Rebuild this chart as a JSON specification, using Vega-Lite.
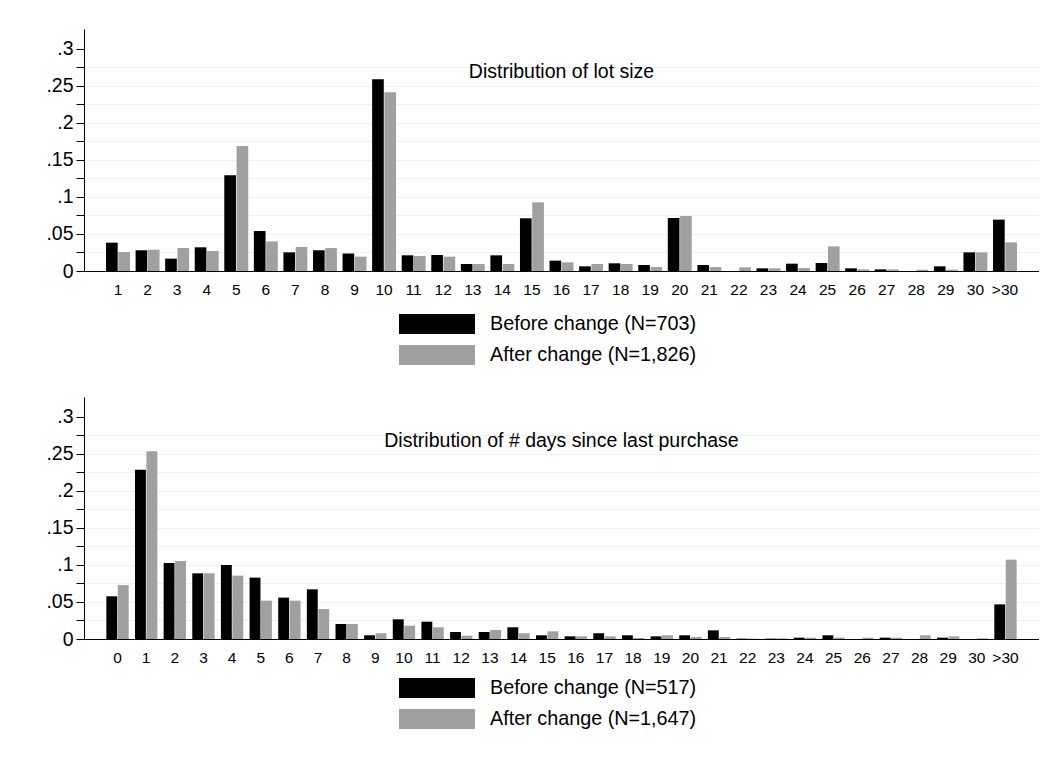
{
  "$schema": "https://vega.github.io/schema/vega-lite/v6.json",
  "padding": {"left": 45, "top": 29, "right": 0, "bottom": 0},
  "background": "white",
  "datasets": {
    "lot": [
      {"category": "1", "series": "Before change (N=703)", "share": 0.0383},
      {"category": "1", "series": "After change (N=1,826)", "share": 0.0257},
      {"category": "2", "series": "Before change (N=703)", "share": 0.028},
      {"category": "2", "series": "After change (N=1,826)", "share": 0.0288},
      {"category": "3", "series": "Before change (N=703)", "share": 0.0167},
      {"category": "3", "series": "After change (N=1,826)", "share": 0.0311},
      {"category": "4", "series": "Before change (N=703)", "share": 0.032},
      {"category": "4", "series": "After change (N=1,826)", "share": 0.027},
      {"category": "5", "series": "Before change (N=703)", "share": 0.1293},
      {"category": "5", "series": "After change (N=1,826)", "share": 0.169},
      {"category": "6", "series": "Before change (N=703)", "share": 0.054},
      {"category": "6", "series": "After change (N=1,826)", "share": 0.040},
      {"category": "7", "series": "Before change (N=703)", "share": 0.0252},
      {"category": "7", "series": "After change (N=1,826)", "share": 0.0324},
      {"category": "8", "series": "Before change (N=703)", "share": 0.028},
      {"category": "8", "series": "After change (N=1,826)", "share": 0.031},
      {"category": "9", "series": "Before change (N=703)", "share": 0.0236},
      {"category": "9", "series": "After change (N=1,826)", "share": 0.0194},
      {"category": "10", "series": "Before change (N=703)", "share": 0.259},
      {"category": "10", "series": "After change (N=1,826)", "share": 0.2414},
      {"category": "11", "series": "Before change (N=703)", "share": 0.0212},
      {"category": "11", "series": "After change (N=1,826)", "share": 0.0203},
      {"category": "12", "series": "Before change (N=703)", "share": 0.0216},
      {"category": "12", "series": "After change (N=1,826)", "share": 0.0194},
      {"category": "13", "series": "Before change (N=703)", "share": 0.0095},
      {"category": "13", "series": "After change (N=1,826)", "share": 0.0095},
      {"category": "14", "series": "Before change (N=703)", "share": 0.0212},
      {"category": "14", "series": "After change (N=1,826)", "share": 0.0095},
      {"category": "15", "series": "Before change (N=703)", "share": 0.0712},
      {"category": "15", "series": "After change (N=1,826)", "share": 0.0928},
      {"category": "16", "series": "Before change (N=703)", "share": 0.014},
      {"category": "16", "series": "After change (N=1,826)", "share": 0.0117},
      {"category": "17", "series": "Before change (N=703)", "share": 0.0063},
      {"category": "17", "series": "After change (N=1,826)", "share": 0.0095},
      {"category": "18", "series": "Before change (N=703)", "share": 0.0104},
      {"category": "18", "series": "After change (N=1,826)", "share": 0.0095},
      {"category": "19", "series": "Before change (N=703)", "share": 0.0081},
      {"category": "19", "series": "After change (N=1,826)", "share": 0.0054},
      {"category": "20", "series": "Before change (N=703)", "share": 0.0716},
      {"category": "20", "series": "After change (N=1,826)", "share": 0.0743},
      {"category": "21", "series": "Before change (N=703)", "share": 0.0081},
      {"category": "21", "series": "After change (N=1,826)", "share": 0.0054},
      {"category": "22", "series": "Before change (N=703)", "share": 0},
      {"category": "22", "series": "After change (N=1,826)", "share": 0.005},
      {"category": "23", "series": "Before change (N=703)", "share": 0.0036},
      {"category": "23", "series": "After change (N=1,826)", "share": 0.0036},
      {"category": "24", "series": "Before change (N=703)", "share": 0.0099},
      {"category": "24", "series": "After change (N=1,826)", "share": 0.0041},
      {"category": "25", "series": "Before change (N=703)", "share": 0.0108},
      {"category": "25", "series": "After change (N=1,826)", "share": 0.0333},
      {"category": "26", "series": "Before change (N=703)", "share": 0.0036},
      {"category": "26", "series": "After change (N=1,826)", "share": 0.0022},
      {"category": "27", "series": "Before change (N=703)", "share": 0.0022},
      {"category": "27", "series": "After change (N=1,826)", "share": 0.0022},
      {"category": "28", "series": "Before change (N=703)", "share": 0},
      {"category": "28", "series": "After change (N=1,826)", "share": 0.0018},
      {"category": "29", "series": "Before change (N=703)", "share": 0.0063},
      {"category": "29", "series": "After change (N=1,826)", "share": 0.0018},
      {"category": "30", "series": "Before change (N=703)", "share": 0.0252},
      {"category": "30", "series": "After change (N=1,826)", "share": 0.0252},
      {"category": ">30", "series": "Before change (N=703)", "share": 0.0694},
      {"category": ">30", "series": "After change (N=1,826)", "share": 0.0387}
    ],
    "days": [
      {"category": "0", "series": "Before change (N=517)", "share": 0.0577},
      {"category": "0", "series": "After change (N=1,647)", "share": 0.0728},
      {"category": "1", "series": "Before change (N=517)", "share": 0.2288},
      {"category": "1", "series": "After change (N=1,647)", "share": 0.2536},
      {"category": "2", "series": "Before change (N=517)", "share": 0.1027},
      {"category": "2", "series": "After change (N=1,647)", "share": 0.1054},
      {"category": "3", "series": "Before change (N=517)", "share": 0.0887},
      {"category": "3", "series": "After change (N=1,647)", "share": 0.0887},
      {"category": "4", "series": "Before change (N=517)", "share": 0.1},
      {"category": "4", "series": "After change (N=1,647)", "share": 0.0856},
      {"category": "5", "series": "Before change (N=517)", "share": 0.0829},
      {"category": "5", "series": "After change (N=1,647)", "share": 0.0518},
      {"category": "6", "series": "Before change (N=517)", "share": 0.0559},
      {"category": "6", "series": "After change (N=1,647)", "share": 0.0518},
      {"category": "7", "series": "Before change (N=517)", "share": 0.0671},
      {"category": "7", "series": "After change (N=1,647)", "share": 0.0405},
      {"category": "8", "series": "Before change (N=517)", "share": 0.0203},
      {"category": "8", "series": "After change (N=1,647)", "share": 0.0203},
      {"category": "9", "series": "Before change (N=517)", "share": 0.005},
      {"category": "9", "series": "After change (N=1,647)", "share": 0.0077},
      {"category": "10", "series": "Before change (N=517)", "share": 0.0266},
      {"category": "10", "series": "After change (N=1,647)", "share": 0.018},
      {"category": "11", "series": "Before change (N=517)", "share": 0.0234},
      {"category": "11", "series": "After change (N=1,647)", "share": 0.0158},
      {"category": "12", "series": "Before change (N=517)", "share": 0.0095},
      {"category": "12", "series": "After change (N=1,647)", "share": 0.0045},
      {"category": "13", "series": "Before change (N=517)", "share": 0.0095},
      {"category": "13", "series": "After change (N=1,647)", "share": 0.0122},
      {"category": "14", "series": "Before change (N=517)", "share": 0.0158},
      {"category": "14", "series": "After change (N=1,647)", "share": 0.0077},
      {"category": "15", "series": "Before change (N=517)", "share": 0.005},
      {"category": "15", "series": "After change (N=1,647)", "share": 0.0104},
      {"category": "16", "series": "Before change (N=517)", "share": 0.0036},
      {"category": "16", "series": "After change (N=1,647)", "share": 0.0036},
      {"category": "17", "series": "Before change (N=517)", "share": 0.0077},
      {"category": "17", "series": "After change (N=1,647)", "share": 0.0036},
      {"category": "18", "series": "Before change (N=517)", "share": 0.005},
      {"category": "18", "series": "After change (N=1,647)", "share": 0.0014},
      {"category": "19", "series": "Before change (N=517)", "share": 0.0036},
      {"category": "19", "series": "After change (N=1,647)", "share": 0.005},
      {"category": "20", "series": "Before change (N=517)", "share": 0.005},
      {"category": "20", "series": "After change (N=1,647)", "share": 0.0027},
      {"category": "21", "series": "Before change (N=517)", "share": 0.0117},
      {"category": "21", "series": "After change (N=1,647)", "share": 0.0027},
      {"category": "22", "series": "Before change (N=517)", "share": 0.0005},
      {"category": "22", "series": "After change (N=1,647)", "share": 0.0005},
      {"category": "23", "series": "Before change (N=517)", "share": 0.0005},
      {"category": "23", "series": "After change (N=1,647)", "share": 0.0009},
      {"category": "24", "series": "Before change (N=517)", "share": 0.0018},
      {"category": "24", "series": "After change (N=1,647)", "share": 0.0018},
      {"category": "25", "series": "Before change (N=517)", "share": 0.005},
      {"category": "25", "series": "After change (N=1,647)", "share": 0.0018},
      {"category": "26", "series": "Before change (N=517)", "share": 0},
      {"category": "26", "series": "After change (N=1,647)", "share": 0.0018},
      {"category": "27", "series": "Before change (N=517)", "share": 0.0018},
      {"category": "27", "series": "After change (N=1,647)", "share": 0.0018},
      {"category": "28", "series": "Before change (N=517)", "share": 0},
      {"category": "28", "series": "After change (N=1,647)", "share": 0.005},
      {"category": "29", "series": "Before change (N=517)", "share": 0.0018},
      {"category": "29", "series": "After change (N=1,647)", "share": 0.0036},
      {"category": "30", "series": "Before change (N=517)", "share": 0},
      {"category": "30", "series": "After change (N=1,647)", "share": 0.0009},
      {"category": ">30", "series": "Before change (N=517)", "share": 0.0468},
      {"category": ">30", "series": "After change (N=1,647)", "share": 0.1072}
    ]
  },
  "vconcat": [
    {
      "data": {"name": "lot"},
      "width": 955,
      "height": 242,
      "title": {"text": "Distribution of lot size", "offset": -68, "baseline": "alphabetic"},
      "mark": {"type": "bar"},
      "encoding": {
        "x": {
          "field": "category", "type": "nominal",
          "sort": ["1","2","3","4","5","6","7","8","9","10","11","12","13","14","15","16","17","18","19","20","21","22","23","24","25","26","27","28","29","30",">30"],
          "scale": {"paddingInner": 0.19, "paddingOuter": 0.745},
          "axis": {"title": null, "labelAngle": 0, "ticks": false, "labelPadding": 11, "labelFontSize": 15.5, "domainColor": "black", "labelColor": "black", "grid": false}
        },
        "xOffset": {"field": "series", "type": "nominal", "scale": {"domain": ["Before change (N=703)", "After change (N=1,826)"], "paddingInner": 0.05}},
        "y": {
          "field": "share", "type": "quantitative",
          "scale": {"domain": [0, 0.327], "nice": false},
          "axis": {
            "title": null,
            "values": [0, 0.025, 0.05, 0.075, 0.1, 0.125, 0.15, 0.175, 0.2, 0.225, 0.25, 0.275, 0.3],
            "labelExpr": "abs(datum.value*20 - round(datum.value*20)) < 0.01 ? (datum.value == 0 ? '0' : replace(format(datum.value, '.2~f'), '0.', '.')) : ''",
            "grid": true,
            "gridColor": "#eaf2f3",
            "gridOpacity": {"condition": {"test": "datum.value < 0.01 || datum.value > 0.29", "value": 0}, "value": 1},
            "tickSize": 8, "tickColor": "black", "domainColor": "black",
            "labelFontSize": 19.5, "labelPadding": 3, "labelColor": "black"
          }
        },
        "color": {
          "field": "series", "type": "nominal",
          "scale": {"domain": ["Before change (N=703)", "After change (N=1,826)"], "range": ["#000000", "#a0a0a0"]},
          "legend": {"title": null, "orient": "bottom", "direction": "vertical", "symbolType": "M-3.8,-1L3.8,-1L3.8,1L-3.8,1Z", "symbolSize": 400, "symbolStrokeWidth": 0, "labelFontSize": 19.8, "labelOffset": 43, "labelLimit": 500, "rowPadding": 11, "offset": 16, "labelColor": "black"}
        }
      }
    },
    {
      "data": {"name": "days"},
      "width": 955,
      "height": 242,
      "title": {"text": "Distribution of # days since last purchase", "offset": -69, "baseline": "alphabetic"},
      "mark": {"type": "bar"},
      "encoding": {
        "x": {
          "field": "category", "type": "nominal",
          "sort": ["0","1","2","3","4","5","6","7","8","9","10","11","12","13","14","15","16","17","18","19","20","21","22","23","24","25","26","27","28","29","30",">30"],
          "scale": {"paddingInner": 0.22, "paddingOuter": 0.78},
          "axis": {"title": null, "labelAngle": 0, "ticks": false, "labelPadding": 11, "labelFontSize": 15.5, "domainColor": "black", "labelColor": "black", "grid": false}
        },
        "xOffset": {"field": "series", "type": "nominal", "scale": {"domain": ["Before change (N=517)", "After change (N=1,647)"], "paddingInner": 0.05}},
        "y": {
          "field": "share", "type": "quantitative",
          "scale": {"domain": [0, 0.327], "nice": false},
          "axis": {
            "title": null,
            "values": [0, 0.025, 0.05, 0.075, 0.1, 0.125, 0.15, 0.175, 0.2, 0.225, 0.25, 0.275, 0.3],
            "labelExpr": "abs(datum.value*20 - round(datum.value*20)) < 0.01 ? (datum.value == 0 ? '0' : replace(format(datum.value, '.2~f'), '0.', '.')) : ''",
            "grid": true,
            "gridColor": "#eaf2f3",
            "gridOpacity": {"condition": {"test": "datum.value < 0.01 || datum.value > 0.29", "value": 0}, "value": 1},
            "tickSize": 8, "tickColor": "black", "domainColor": "black",
            "labelFontSize": 19.5, "labelPadding": 3, "labelColor": "black"
          }
        },
        "color": {
          "field": "series", "type": "nominal",
          "scale": {"domain": ["Before change (N=517)", "After change (N=1,647)"], "range": ["#000000", "#a0a0a0"]},
          "legend": {"title": null, "orient": "bottom", "direction": "vertical", "symbolType": "M-3.8,-1L3.8,-1L3.8,1L-3.8,1Z", "symbolSize": 400, "symbolStrokeWidth": 0, "labelFontSize": 19.8, "labelOffset": 43, "labelLimit": 500, "rowPadding": 11, "offset": 12, "labelColor": "black"}
        }
      }
    }
  ],
  "spacing": 32,
  "resolve": {"scale": {"color": "independent", "x": "independent", "xOffset": "independent"}, "legend": {"color": "independent"}},
  "config": {
    "font": "Liberation Sans",
    "view": {"stroke": null},
    "title": {"fontSize": 19.5, "fontWeight": "normal", "color": "black", "anchor": "middle", "font": "Liberation Sans"},
    "legend": {"layout": {"bottom": {"anchor": "middle"}}},
    "bar": {"opacity": 1}
  }
}
